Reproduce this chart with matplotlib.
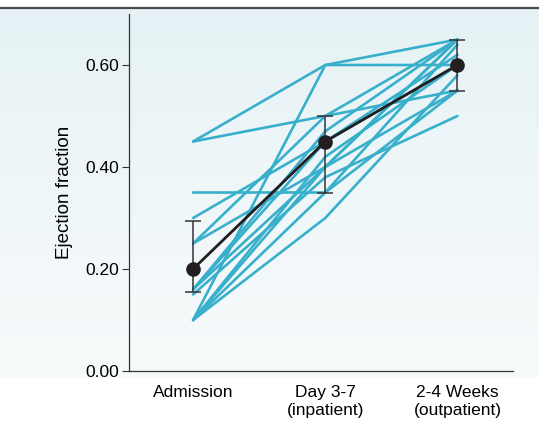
import numpy as np
import matplotlib.pyplot as plt
from matplotlib.colors import LinearSegmentedColormap

plt.rcParams['font.family'] = ['Liberation Sans', 'DejaVu Sans']

# time points
categories = ["Admission", "Day 3-7\n(inpatient)", "2-4 Weeks\n(outpatient)"]

# individual patients (ejection fraction at each time point)
admission = [0.45, 0.45, 0.35, 0.30, 0.25, 0.16, 0.16, 0.15, 0.10, 0.10,
             0.10, 0.10, 0.16, 0.25, 0.10]
day_3_7 = [0.60, 0.50, 0.35, 0.45, 0.50, 0.45, 0.40, 0.38, 0.60, 0.30,
           0.40, 0.42, 0.47, 0.40, 0.35]
weeks_2_4 = [0.65, 0.55, 0.55, 0.60, 0.65, 0.62, 0.65, 0.50, 0.60, 0.58,
             0.65, 0.60, 0.65, 0.55, 0.64]

# group mean with lower / upper error
mean_ef = [0.20, 0.45, 0.60]
err_low = [0.045, 0.10, 0.05]
err_high = [0.095, 0.05, 0.05]

W, H = 539, 428
fig = plt.figure(figsize=(W / 100, H / 100), dpi=100)

# shaded panel background
bg = fig.add_axes([0, 0, 1, 1], zorder=-5)
bg.set_xlim(0, W)
bg.set_ylim(H, 0)
bg.axis("off")
cmap = LinearSegmentedColormap.from_list("bg", ["#e6f2f5", "#f8fbfc"])
grad = np.linspace(0, 1, 256).reshape(-1, 1)
bg.imshow(grad, cmap=cmap, extent=[0, W, 378, 8], aspect="auto")
bg.plot([0, W], [7.5, 7.5], color="#4a4a4a", lw=1.6)

ax = fig.add_axes([129 / W, 1 - 371 / H, (513 - 129) / W, (371 - 14) / H])
ax.patch.set_alpha(0)

x = np.arange(len(categories))
line_color = "#38afcb"
for a, d, w in zip(admission, day_3_7, weeks_2_4):
    ax.plot(x, [a, d, w], color=line_color, lw=1.9, solid_capstyle="round", zorder=2)

ax.errorbar(x, mean_ef, yerr=[err_low, err_high], color="#231f20", lw=2.0,
            marker="o", markersize=9.5, elinewidth=1.1, ecolor="#333333",
            capsize=6, capthick=1.1, zorder=4)

ax.set_xlim(-0.485, 2.42)
ax.set_ylim(0, 0.70)
ax.set_yticks([0, 0.2, 0.4, 0.6])
ax.set_yticklabels(["0.00", "0.20", "0.40", "0.60"])
ax.set_xticks(x)
ax.set_xticklabels(categories, linespacing=1.25)
ax.tick_params(axis="y", labelsize=12.5, length=5, width=0.8, color="#333333", pad=2)
ax.tick_params(axis="x", labelsize=12.5, length=0, pad=10)
ax.set_ylabel("Ejection fraction", fontsize=13.5, labelpad=9)

for side in ["top", "right"]:
    ax.spines[side].set_visible(False)
for side in ["left", "bottom"]:
    ax.spines[side].set_color("#333333")
    ax.spines[side].set_linewidth(0.9)

fig.savefig("out.png", dpi=100)
